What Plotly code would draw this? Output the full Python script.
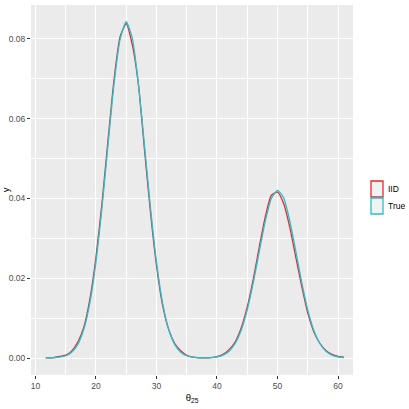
import plotly.graph_objects as go

# x grid for density curves
theta = [11.7, 13, 14, 15, 16, 17, 18, 19, 20, 21, 22, 23, 24, 25, 26, 27, 28, 29, 30,
         31, 32, 33, 34, 35, 36, 37, 38, 39, 40, 41, 42, 43, 44, 45, 46, 47, 48, 49, 50,
         51, 52, 53, 54, 55, 56, 57, 58, 59, 60, 61]

dens_true = [0.00001, 0.00006, 0.0002, 0.00057, 0.00147, 0.00343, 0.00726, 0.0139, 0.0241,
             0.0378, 0.0536, 0.0689, 0.0800, 0.0843, 0.0802, 0.0689, 0.0536, 0.0378, 0.0241,
             0.0139, 0.00726, 0.00343, 0.00147, 0.00057, 0.0002, 0.00007, 0.00005, 0.0001,
             0.00028, 0.00073, 0.00172, 0.00363, 0.00695, 0.01205, 0.0189, 0.0268, 0.0344,
             0.0400, 0.04205, 0.0402, 0.0346, 0.0270, 0.0190, 0.01205, 0.00695, 0.00363,
             0.00172, 0.00073, 0.00028, 0.0001]

dens_iid = [0.00002, 0.0001, 0.0004, 0.0007, 0.0018, 0.0040, 0.0078, 0.0148, 0.0253,
            0.0390, 0.0548, 0.0700, 0.0806, 0.0838, 0.0786, 0.0688, 0.0525, 0.0366, 0.0232,
            0.0133, 0.0072, 0.0037, 0.0018, 0.0007, 0.0002, 0.00005, 0.00004, 0.00012,
            0.00032, 0.0009, 0.0021, 0.0040, 0.0075, 0.0128, 0.0198, 0.0279, 0.0355,
            0.0408, 0.0416, 0.0388, 0.0330, 0.0255, 0.0180, 0.0113, 0.0066, 0.0037,
            0.0019, 0.0009, 0.0004, 0.0002]

series = ["IID", "True"]
colors = {"IID": "#F0242A", "True": "#1CC5CF"}
xticks = [10, 20, 30, 40, 50, 60]
yticks = [0.00, 0.02, 0.04, 0.06, 0.08]

fig = go.Figure()
for name, vals in (("IID", dens_iid), ("True", dens_true)):
    fig.add_trace(go.Scatter(x=theta, y=vals, mode="lines", name=name,
                             line=dict(color=colors[name], width=1.3, shape="spline", smoothing=0.6),
                             showlegend=False))

font = "Liberation Sans, Arial, sans-serif"
axis_common = dict(showline=False, zeroline=False, showgrid=True, gridcolor="white", gridwidth=1.1,
                   ticks="outside", ticklen=3, tickcolor="#333333", tickwidth=1, automargin=False,
                   tickfont=dict(family=font, size=8.5, color="#4D4D4D"))

fig.update_layout(
    template="none",
    width=409, height=409,
    margin=dict(l=31, r=56, t=5, b=34),
    paper_bgcolor="white", plot_bgcolor="#EBEBEB",
    font=dict(family=font, size=9, color="black"),
    xaxis=dict(range=[9.26, 62.48], tickvals=xticks, ticktext=[str(v) for v in xticks],
               minor=dict(tickvals=[15, 25, 35, 45, 55], showgrid=True, gridcolor="white",
                          gridwidth=0.5, ticks=""),
               title=dict(text="θ<sub>25</sub>", font=dict(family=font, size=9.5), standoff=4),
               **axis_common),
    yaxis=dict(range=[-0.00426, 0.0885], tickvals=yticks, ticktext=[f"{v:.2f}" for v in yticks],
               minor=dict(tickvals=[0.01, 0.03, 0.05, 0.07], showgrid=True, gridcolor="white",
                          gridwidth=0.5, ticks=""),
               title=dict(text="y", font=dict(family=font, size=9.5), standoff=4),
               **axis_common),
)

# legend drawn as key boxes (ggplot style)
key_y = [(181, 197), (198, 214)]
for (y0, y1), name in zip(key_y, series):
    fig.add_shape(type="rect", xref="paper", yref="paper",
                  x0=(371 - 31) / 322, x1=(383 - 31) / 322,
                  y0=(375 - y1) / 370, y1=(375 - y0) / 370,
                  fillcolor="#F2F2F2", line=dict(color=colors[name], width=1.3))
    fig.add_annotation(xref="paper", yref="paper", x=(386 - 31) / 322, y=(375 - (y0 + y1) / 2) / 370,
                       text=name, showarrow=False, xanchor="left", yanchor="middle",
                       font=dict(family=font, size=8.5, color="black"))

fig.write_html("out.html", config={"displayModeBar": False},
               post_script="document.body.style.margin='0';document.body.style.overflow='hidden';")
